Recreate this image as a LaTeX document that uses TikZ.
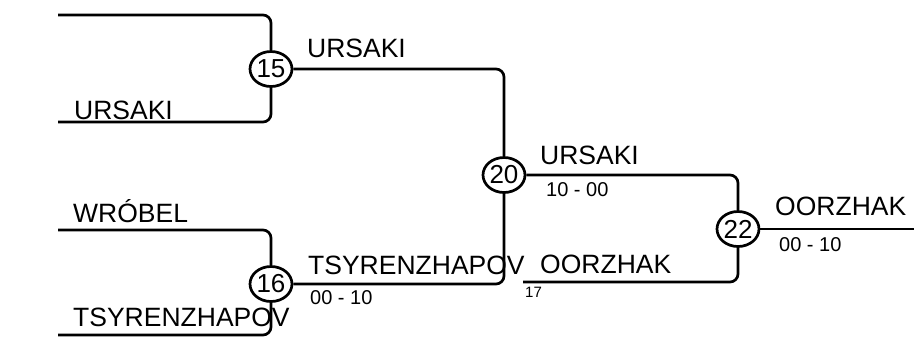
\documentclass[tikz,border=0pt]{standalone}
\usepackage{fontspec}
\setmainfont{Liberation Sans}
\usetikzlibrary{shapes.geometric}
\begin{document}
\begin{tikzpicture}[x=1pt,y=-1pt,
  conn/.style={line width=2.7pt, rounded corners=8pt},
  match/.style={ellipse, draw, line width=2.7pt, minimum width=42pt, minimum height=35pt, inner sep=0pt, font=\fontsize{26}{26}\selectfont, fill=white},
  big/.style={anchor=base west, inner sep=0pt, font=\fontsize{26.5}{30}\selectfont},
  score/.style={anchor=base west, inner sep=0pt, font=\fontsize{20}{22}\selectfont},
  tiny/.style={anchor=base west, inner sep=0pt, font=\fontsize{15}{17}\selectfont}]
\useasboundingbox (0,0) rectangle (914,338);
% match nodes
\node[match] (m15) at (271,69) {15};
\node[match] (m16) at (271,284) {16};
\node[match] (m20) at (504,175) {20};
\node[match] (m22) at (738,229) {22};
% free ends
\coordinate (a15) at (58,15);
\coordinate (b15) at (58,122);
\coordinate (a16) at (58,230);
\coordinate (b16) at (58,335);
\coordinate (b22) at (523,282);
\coordinate (e22) at (914,229);
% connectors
\draw[conn] (a15) -| (m15.north);
\draw[conn] (b15) -| (m15.south);
\draw[conn] (a16) -| (m16.north);
\draw[conn] (b16) -| (m16.south);
\draw[conn] (m15.east) -| (m20.north);
\draw[conn] (m16.east) -| (m20.south);
\draw[conn] (m20.east) -| (m22.north);
\draw[conn] (b22) -| (m22.south);
\draw[conn] (m22.east) -- (e22);
% labels
\node[big] (l1) at (74,119) {URSAKI};
\node[big] (l2) at (73,222) {WRÓBEL};
\node[big] (l3) at (73,326) {TSYRENZHAPOV};
\node[big] (l4) at (307,57) {URSAKI};
\node[big] (l5) at (308,274) {TSYRENZHAPOV};
\node[score] (s5) at (310,304) {00 - 10};
\node[big] (l6) at (540,164) {URSAKI};
\node[score] (s6) at (546,196) {10 - 00};
\node[big] (l7) at (540,273) {OORZHAK};
\node[tiny] (t7) at (525,297) {17};
\node[big] (l8) at (775,215) {OORZHAK};
\node[score] (s8) at (779,251) {00 - 10};
\end{tikzpicture}
\end{document}
